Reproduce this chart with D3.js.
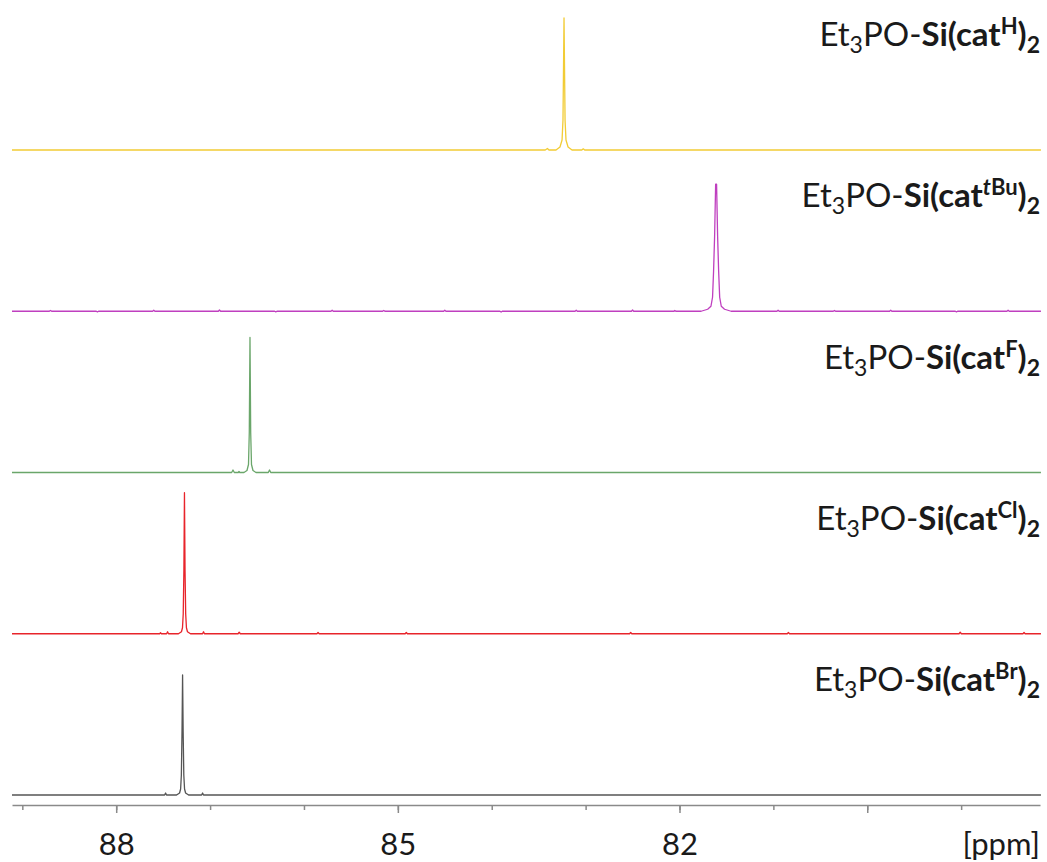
<!DOCTYPE html>
<html>
<head>
<meta charset="utf-8">
<script src="https://cdn.jsdelivr.net/npm/d3@7"></script>
<style>
  html, body { margin: 0; padding: 0; background: #fff; }
  svg { display: block; }
</style>
</head>
<body>
<svg id="chart" width="1047" height="862"></svg>
<script>
// 31P NMR traces of Et3PO–Si(cat^X)2 adducts, stacked top to bottom.
const superscripts = ["H", "tBu", "F", "Cl", "Br"];
const traceColors = ["#f2cc35", "#bf3fbf", "#6aa66a", "#e8242b", "#555555"];

// [ppm, intensity] points of each trace (intensity in arbitrary units)
const traceH = [
  [89.11, 0], [83.43, 0], [83.407, 1.5], [83.39, 0], [83.315, 0], [83.273, 3],
  [83.251, 10], [83.241, 30], [83.23, 132], [83.219, 30], [83.209, 10],
  [83.187, 3], [83.145, 0], [83.04, 0], [83.025, 1.2], [83.01, 0], [78.15, 0]
];
const traceTBu = [
  [89.11, 0], [81.77, 0], [81.70, 2], [81.665, 5], [81.648, 14],
  [81.637, 40], [81.626, 75], [81.615, 127], [81.605, 127], [81.594, 75],
  [81.583, 40], [81.572, 14], [81.555, 5], [81.52, 2], [81.45, 0], [78.15, 0]
];
const traceF = [
  [89.11, 0], [86.77, 0], [86.756, 2.5], [86.742, 0], [86.70, 0], [86.692, 1],
  [86.684, 0], [86.639, 0], [86.607, 2], [86.591, 8], [86.5825, 40],
  [86.575, 135], [86.5675, 40], [86.559, 8], [86.543, 2], [86.511, 0],
  [86.38, 0], [86.367, 2.5], [86.354, 0], [78.15, 0]
];
const traceCl = [
  [89.11, 0], [87.538, 0], [87.528, 1], [87.518, 0], [87.463, 0], [87.453, 2],
  [87.443, 0], [87.337, 0], [87.305, 2], [87.294, 6], [87.286, 20],
  [87.279, 64], [87.273, 141], [87.267, 64], [87.26, 20], [87.252, 6],
  [87.241, 2], [87.209, 0], [87.08, 0], [87.07, 2], [87.06, 0], [78.15, 0]
];
const traceBr = [
  [89.11, 0], [87.484, 0], [87.474, 2], [87.464, 0], [87.357, 0], [87.325, 2],
  [87.314, 6], [87.306, 20], [87.299, 64], [87.293, 120], [87.287, 64],
  [87.28, 20], [87.272, 6], [87.261, 2], [87.229, 0], [87.09, 0], [87.08, 2],
  [87.07, 0], [78.15, 0]
];
const traces = [traceH, traceTBu, traceF, traceCl, traceBr];

// small baseline wiggles [ppm, intensity]
const wigglesTBu = [
  [88.7, 0.8], [88.2, -0.7], [87.6, 1], [86.9, 1.2], [86.3, -0.6], [85.7, 1],
  [85.15, 0.8], [84.5, 1], [83.9, -0.8], [83.1, 1], [82.5, 1.2], [82.05, 0.8],
  [80.95, 1], [80.35, 0.8], [79.75, 1.1], [79.05, -0.7], [78.5, 1]
];
const wigglesCl = [
  [86.69, 1.5], [85.85, 1.2], [84.91, 1.2], [82.52, 1.2], [80.84, 1.2],
  [79.01, 1.5], [78.33, 1.2]
];
const wiggles = [[], wigglesTBu, [], wigglesCl, []];

// axis
const axisTicks = [89, 88, 87, 86, 85, 84, 83, 82, 81, 80, 79];
const majorTicks = [88, 85, 82, 80];
const labelledTicks = [88, 85, 82];
const axisUnit = "[ppm]";

const svg = d3.select("#chart");

const x = d3.scaleLinear().domain([89.11, 78.16]).range([12, 1040]);

const firstBase = 150, rowStep = 161.25, rowHeight = 150;
const font = "Lato, 'Open Sans', sans-serif";
const labelSize = 33, smallSize = 23;

function withWiggles(pts, wig) {
  const extra = [];
  wig.forEach(([p, v]) => {
    extra.push([p + 0.012, 0], [p, v], [p - 0.012, 0]);
  });
  return pts.concat(extra).sort((a, b) => b[0] - a[0]);
}

traces.forEach((pts, i) => {
  const base = firstBase + i * rowStep;
  const y = d3.scaleLinear().domain([0, rowHeight]).range([base, base - rowHeight]);
  const line = d3.line().x(d => x(d[0])).y(d => y(d[1]));
  svg.append("path")
    .datum(withWiggles(pts, wiggles[i]))
    .attr("d", line)
    .attr("fill", "none")
    .attr("stroke", traceColors[i])
    .attr("stroke-width", 1.3)
    .attr("stroke-linejoin", "round");

  // compound label
  const t = svg.append("text")
    .attr("x", 1040)
    .attr("y", base - 104)
    .attr("text-anchor", "end")
    .attr("font-family", font)
    .attr("font-size", labelSize)
    .attr("fill", "#1a1a1a");
  t.append("tspan").text("Et");
  t.append("tspan").attr("font-size", smallSize).attr("dy", 7).text("3");
  t.append("tspan").attr("dy", -7).text("PO-");
  t.append("tspan").attr("font-weight", "bold").text("Si(cat");
  const sup = superscripts[i];
  if (sup === "tBu") {
    t.append("tspan").attr("font-weight", "bold").attr("font-style", "italic")
      .attr("font-size", smallSize - 1).attr("dy", -12).text("t");
    t.append("tspan").attr("font-weight", "bold").attr("font-size", smallSize - 1).text("Bu");
  } else {
    t.append("tspan").attr("font-weight", "bold").attr("font-size", smallSize - 1)
      .attr("dy", -12).text(sup);
  }
  t.append("tspan").attr("font-weight", "bold").attr("dy", 12).text(")");
  t.append("tspan").attr("font-weight", "bold").attr("font-size", smallSize)
    .attr("dy", 7).text("2");
});

// ppm axis
const axisY = 805;
const minor = d3.axisBottom(x).tickValues(axisTicks).tickSizeInner(5)
  .tickSizeOuter(0).tickFormat("");
const major = d3.axisBottom(x).tickValues(majorTicks).tickSizeInner(8)
  .tickSizeOuter(0).tickPadding(20)
  .tickFormat(d => labelledTicks.includes(d) ? d3.format("d")(d) : "");

const gMinor = svg.append("g").attr("transform", `translate(0,${axisY})`).call(minor);
const gMajor = svg.append("g").attr("transform", `translate(0,${axisY})`).call(major);
[gMinor, gMajor].forEach(g => {
  g.selectAll("path, line").attr("stroke", "#8a8a8a").attr("stroke-width", 1.5);
  g.selectAll("text").attr("font-family", font).attr("font-size", 31)
    .attr("fill", "#1a1a1a");
});
gMajor.select(".domain").remove();

svg.append("text")
  .attr("x", 1040).attr("y", 855)
  .attr("text-anchor", "end")
  .attr("font-family", font).attr("font-size", 31)
  .attr("fill", "#1a1a1a")
  .text(axisUnit);
</script>
</body>
</html>
